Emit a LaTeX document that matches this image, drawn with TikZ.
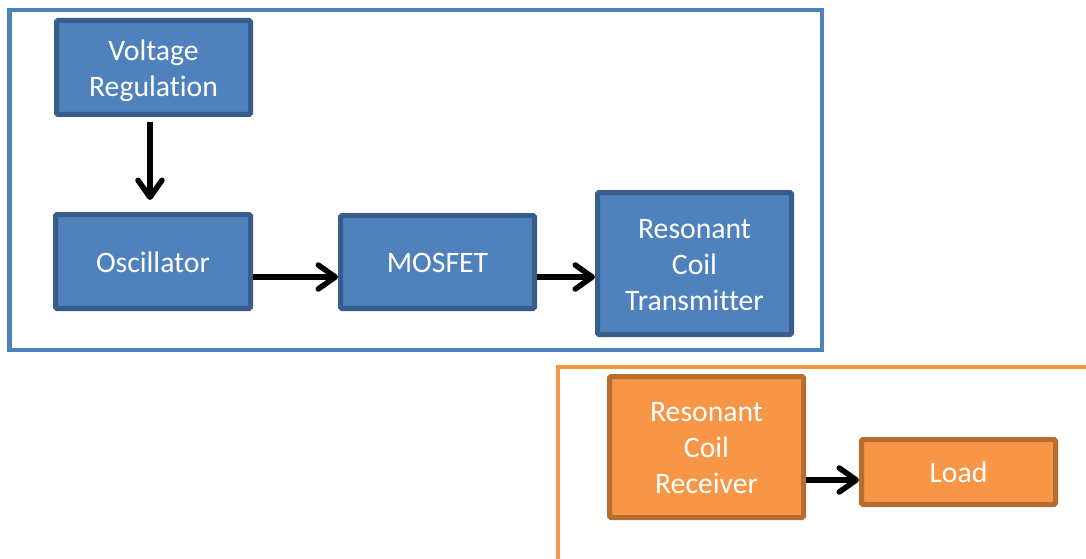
\documentclass[tikz,border=0pt]{standalone}
\usepackage{fontspec}
\setmainfont{Carlito}[Ligatures={NoCommon}]
\usetikzlibrary{arrows.meta}
\definecolor{bfill}{HTML}{4F81BD}
\definecolor{bline}{HTML}{385D8A}
\definecolor{ofill}{HTML}{F79646}
\definecolor{oline}{HTML}{B66D31}
\newcommand\bxstrut{\rule[-7pt]{0pt}{35pt}}
\tikzset{
  box/.style={draw, line width=5pt, rounded corners=1.5pt, text=white, align=center,
    font=\fontsize{29.7}{36}\selectfont, minimum width=194pt, inner sep=0pt,
    execute at begin node=\bxstrut, execute at end node=\bxstrut},
  bbox/.style={box, fill=bfill, draw=bline},
  obox/.style={box, fill=ofill, draw=oline},
  arr/.style={line width=5.5pt, -{Straight Barb[length=17pt,width=24pt,line cap=round,line join=round]}},
  frame/.style={line width=4.5pt}
}
\begin{document}
\begin{tikzpicture}[x=1pt,y=-1pt]
\useasboundingbox (0,0) rectangle (1086,559);
\clip (0,0) rectangle (1086,559);
\draw[frame, draw=bfill] (9.5,10) rectangle (822,350);
\draw[frame, draw=ofill] (558,367) rectangle (1100,580);
\node[bbox, minimum height=94pt] (vr) at (153.5,67.5) {\rule[-7pt]{0pt}{37pt}Voltage\\Regulation\bxstrut};
\node[bbox, minimum height=94pt, minimum width=195pt] (osc) at (153,261.5) {Oscillator};
\node[bbox, minimum height=93pt] (mos) at (437.5,262) {MOSFET};
\node[bbox, minimum height=142pt] (tx) at (694.5,263.5) {\bxstrut Resonant\\Coil\\Transmitter\bxstrut};
\node[obox, minimum height=141pt] (rx) at (706.5,447) {\bxstrut Resonant\\Coil\\Receiver\bxstrut};
\node[obox, minimum height=65pt] (load) at (958.5,472) {Load};
\coordinate (ax) at (150,0);
\coordinate (ay) at (0,277);
\coordinate (by) at (0,480);
\draw[arr, shorten <=5pt, shorten >=12pt] (vr.south -| ax) -- (osc.north -| ax);
\draw[arr] (osc.east |- ay) -- (mos.west |- ay);
\draw[arr] (mos.east |- ay) -- (tx.west |- ay);
\draw[arr] (rx.east |- by) -- (load.west |- by);
\end{tikzpicture}
\end{document}
